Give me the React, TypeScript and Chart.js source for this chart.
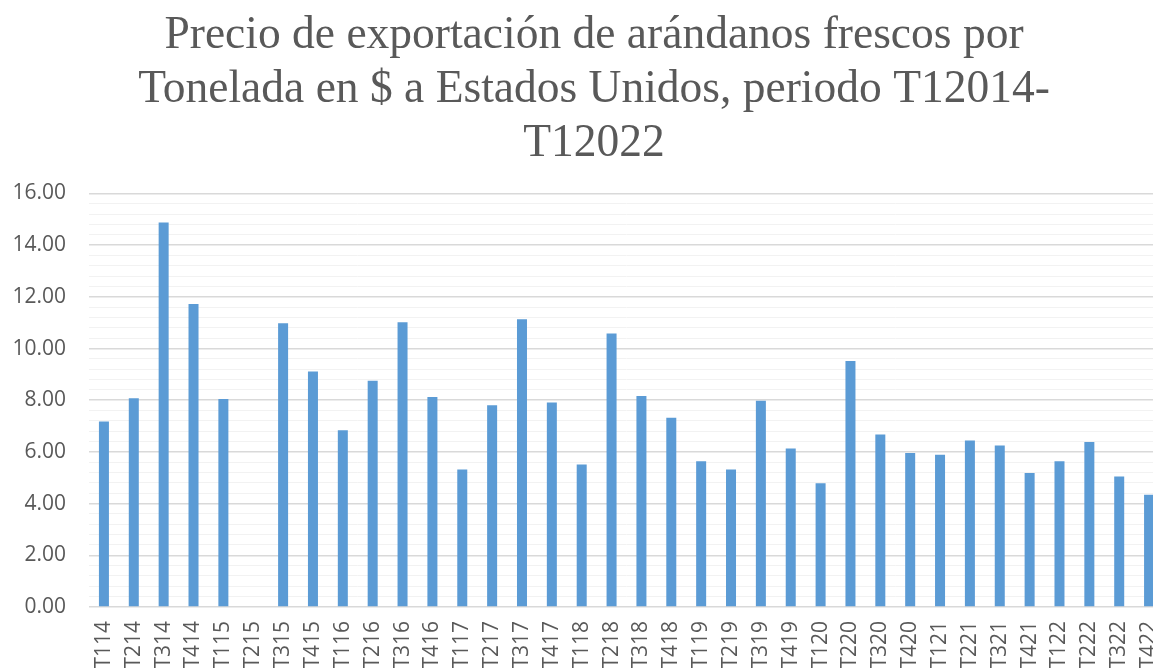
import React, { useEffect, useRef } from "react";
import { Chart, registerables } from "chart.js";

Chart.register(...registerables);

const categories = [
  "T114", "T214", "T314", "T414",
  "T115", "T215", "T315", "T415",
  "T116", "T216", "T316", "T416",
  "T117", "T217", "T317", "T417",
  "T118", "T218", "T318", "T418",
  "T119", "T219", "T319", "T419",
  "T120", "T220", "T320", "T420",
  "T121", "T221", "T321", "T421",
  "T122", "T222", "T322", "T422",
];

const prices: (number | null)[] = [
  7.18, 8.08, 14.88, 11.72,
  8.05, null, 10.98, 9.11,
  6.84, 8.75, 11.02, 8.12,
  5.32, 7.81, 11.13, 7.91,
  5.51, 10.58, 8.16, 7.32,
  5.64, 5.32, 7.98, 6.13,
  4.79, 9.52, 6.67, 5.96,
  5.89, 6.44, 6.25, 5.18,
  5.64, 6.38, 5.05, 4.34,
];

const titleLines = [
  "Precio de exportación de arándanos frescos por",
  "Tonelada en $ a Estados Unidos, periodo T12014-",
  "T12022",
];

const yMin = 0;
const yMax = 16;
const yMinorStep = 0.4;
const yMajorStep = 2;

export default function App() {
  const ref = useRef<HTMLCanvasElement | null>(null);

  useEffect(() => {
    if (!ref.current) return;
    const isMajor = (v: number) =>
      Math.abs(v / yMajorStep - Math.round(v / yMajorStep)) < 1e-6;
    const chart = new Chart(ref.current, {
      type: "bar",
      data: {
        labels: categories,
        datasets: [
          {
            label: "Precio",
            data: prices,
            backgroundColor: "#5B9BD5",
            borderWidth: 0,
            barPercentage: 0.335,
            categoryPercentage: 1,
          },
        ],
      },
      options: {
        animation: false,
        responsive: false,
        devicePixelRatio: 1,
        layout: { padding: { top: 0, left: 0, right: 0, bottom: 0 } },
        plugins: {
          legend: { display: false },
          tooltip: { enabled: false },
          title: {
            display: true,
            text: titleLines,
            color: "#595959",
            font: { family: "'Liberation Serif', serif", size: 45.5, weight: "normal", lineHeight: 1.19 },
            padding: { top: 9, bottom: 22 },
          },
        },
        scales: {
          x: {
            grid: { display: false, drawTicks: false },
            border: { display: false },
            ticks: {
              color: "#595959",
              font: { family: "'Open Sans', sans-serif", size: 21 },
              minRotation: 90,
              maxRotation: 90,
              autoSkip: false,
              padding: 14,
            },
            afterFit: (scale: any) => {
              scale.height = 93;
              scale.paddingLeft = 0;
              scale.paddingRight = 24;
            },
          },
          y: {
            min: yMin,
            max: yMax,
            grid: {
              drawTicks: false,
              color: (ctx: any) => (isMajor(ctx.tick.value) ? "#d9d9d9" : "#f2f2f2"),
              lineWidth: (ctx: any) => (isMajor(ctx.tick.value) ? 1.5 : 1),
            },
            border: { display: false },
            ticks: {
              stepSize: yMinorStep,
              autoSkip: false,
              color: "#595959",
              font: { family: "'Open Sans', sans-serif", size: 21 },
              padding: 23,
              callback: (v: any) => (isMajor(Number(v)) ? Number(v).toFixed(2) : ""),
            },
            afterFit: (scale: any) => {
              scale.width = 89;
            },
          },
        },
      },
    });
    return () => chart.destroy();
  }, []);

  return (
    <div
      style={{
        position: "fixed",
        left: 0,
        top: 0,
        width: 1153,
        height: 668,
        overflow: "hidden",
        background: "#fff",
      }}
    >
      <canvas ref={ref} width={1188} height={700} style={{ display: "block" }} />
    </div>
  );
}
